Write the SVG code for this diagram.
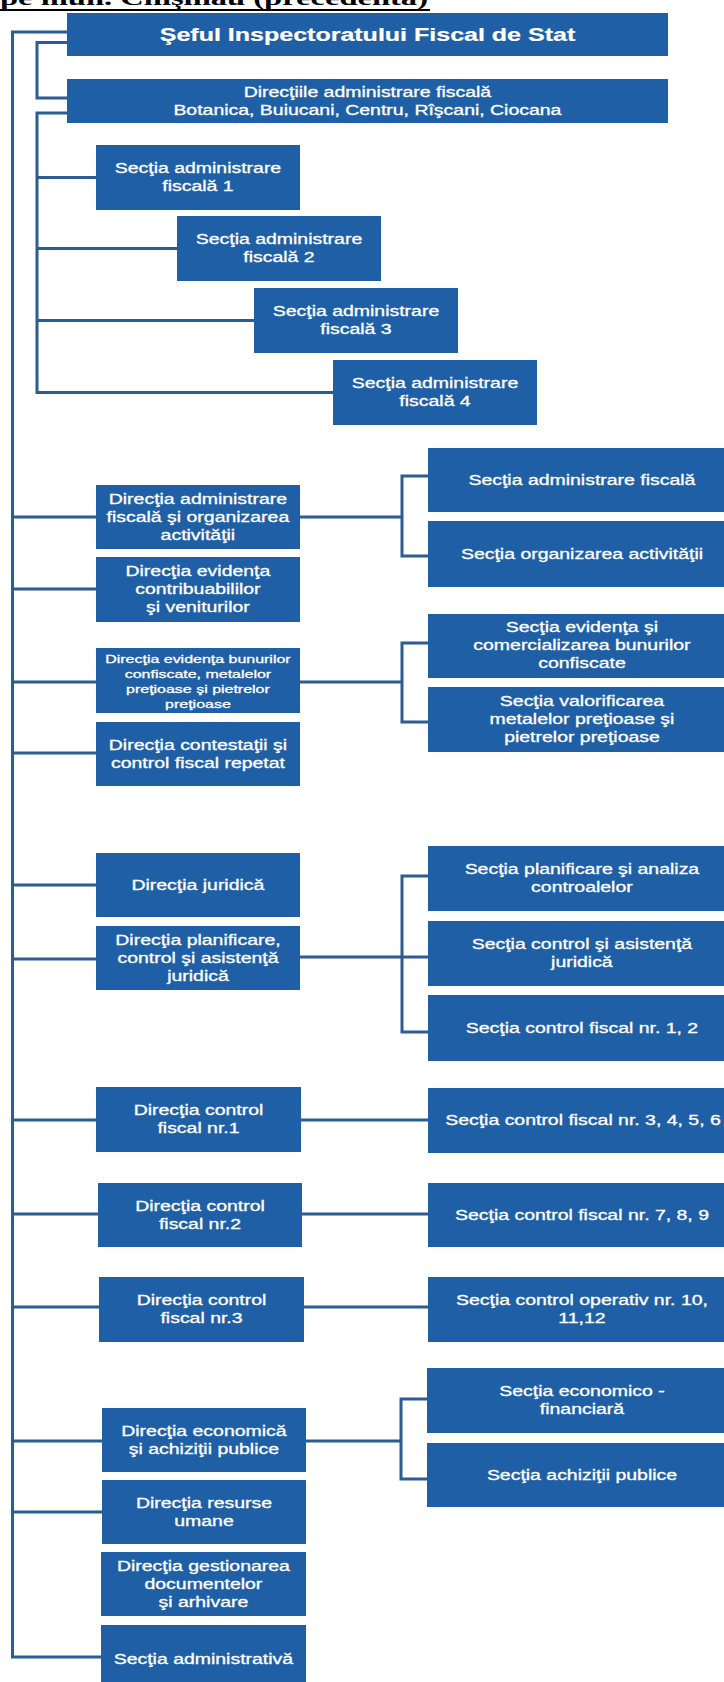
<svg xmlns="http://www.w3.org/2000/svg" width="724" height="1682" viewBox="0 0 724 1682">
<style>
.bg{fill:#fff}
.box{fill:#1f5fa5}
.con path{fill:none;stroke:#2b5c94;stroke-width:3}
.t{font-family:"Liberation Sans",Arial,sans-serif;font-size:14px;fill:#fff;stroke:#fff;stroke-width:0.3;text-anchor:middle;transform-box:fill-box;transform-origin:center;transform:scaleX(1.39)}
.tb{font-weight:bold;font-size:18px;stroke-width:0.2}
.ts{font-size:11.5px}
.head{font-family:"Liberation Serif","Times New Roman",serif;font-weight:bold;font-size:22px;fill:#000}
</style>
<rect class="bg" x="0" y="0" width="724" height="1682"/>
<g id="heading">
<text class="head" x="0" y="5" textLength="428" lengthAdjust="spacingAndGlyphs">pe mun. Chişinău (precedenta)</text>
<rect x="0" y="9" width="430" height="2" fill="#000"/>
</g>
<g class="con" id="connectors">
<path d="M67,32H12.5V1657H101"/>
<path d="M12.5,517H96M12.5,589H96M12.5,682H96M12.5,753H96M12.5,885H96M12.5,959H96M12.5,1120H96M12.5,1214H98M12.5,1307H99M12.5,1441H102M12.5,1512H102"/>
<path d="M67,42.5H37V98H67"/>
<path d="M67,113H37V392.5H333M37,177.5H96M37,248.5H177M37,320.5H254"/>
<path d="M300,517H402M428,476H402V556H428"/>
<path d="M300,682H402M428,643H402V722H428"/>
<path d="M300,957H428M428,876H402V1032H428"/>
<path d="M301,1120H428M302,1214H428M304,1307H428"/>
<path d="M306,1441H401M428,1399H401V1479H428"/>
</g>
<g id="n-sef"><rect class="box" x="67" y="13" width="601" height="43"/><text class="t tb" x="367.5" y="40.7">Şeful Inspectoratului Fiscal de Stat</text></g>
<g id="n-directiile"><rect class="box" x="67" y="79" width="601" height="44"/><text class="t" x="367.5" y="97"><tspan x="367.5">Direcţiile administrare fiscală</tspan><tspan x="367.5" dy="18">Botanica, Buiucani, Centru, Rîşcani, Ciocana</tspan></text></g>
<g id="n-saf1"><rect class="box" x="96" y="145" width="204" height="65"/><text class="t" x="198" y="173.5"><tspan x="198">Secţia administrare</tspan><tspan x="198" dy="18">fiscală 1</tspan></text></g>
<g id="n-saf2"><rect class="box" x="177" y="216" width="204" height="65"/><text class="t" x="279" y="244.5"><tspan x="279">Secţia administrare</tspan><tspan x="279" dy="18">fiscală 2</tspan></text></g>
<g id="n-saf3"><rect class="box" x="254" y="288" width="204" height="65"/><text class="t" x="356" y="316.5"><tspan x="356">Secţia administrare</tspan><tspan x="356" dy="18">fiscală 3</tspan></text></g>
<g id="n-saf4"><rect class="box" x="333" y="360" width="204" height="65"/><text class="t" x="435" y="388.5"><tspan x="435">Secţia administrare</tspan><tspan x="435" dy="18">fiscală 4</tspan></text></g>
<g id="n-dafoa"><rect class="box" x="96" y="485" width="204" height="64"/><text class="t" x="198" y="504"><tspan x="198">Direcţia administrare</tspan><tspan x="198" dy="18">fiscală şi organizarea</tspan><tspan x="198" dy="18">activităţii</tspan></text></g>
<g id="n-decv"><rect class="box" x="96" y="557" width="204" height="65"/><text class="t" x="198" y="576.5"><tspan x="198">Direcţia evidenţa</tspan><tspan x="198" dy="18">contribuabililor</tspan><tspan x="198" dy="18">şi veniturilor</tspan></text></g>
<g id="n-debc"><rect class="box" x="96" y="648" width="204" height="65"/><text class="t ts" x="198" y="662.7"><tspan x="198">Direcţia evidenţa bunurilor</tspan><tspan x="198" dy="15.2">confiscate, metalelor</tspan><tspan x="198" dy="15.2">preţioase şi pietrelor</tspan><tspan x="198" dy="15.2">preţioase</tspan></text></g>
<g id="n-dccfr"><rect class="box" x="96" y="722" width="204" height="64"/><text class="t" x="198" y="750"><tspan x="198">Direcţia contestaţii şi</tspan><tspan x="198" dy="18">control fiscal repetat</tspan></text></g>
<g id="n-dj"><rect class="box" x="96" y="853" width="204" height="64"/><text class="t" x="198" y="890">Direcţia juridică</text></g>
<g id="n-dpca"><rect class="box" x="96" y="926" width="204" height="64"/><text class="t" x="198" y="945"><tspan x="198">Direcţia planificare,</tspan><tspan x="198" dy="18">control şi asistenţă</tspan><tspan x="198" dy="18">juridică</tspan></text></g>
<g id="n-dcf1"><rect class="box" x="96" y="1087" width="205" height="65"/><text class="t" x="198.5" y="1115.5"><tspan x="198.5">Direcţia control</tspan><tspan x="198.5" dy="18">fiscal nr.1</tspan></text></g>
<g id="n-dcf2"><rect class="box" x="98" y="1183" width="204" height="64"/><text class="t" x="200" y="1211"><tspan x="200">Direcţia control</tspan><tspan x="200" dy="18">fiscal nr.2</tspan></text></g>
<g id="n-dcf3"><rect class="box" x="99" y="1277" width="205" height="65"/><text class="t" x="201.5" y="1305.5"><tspan x="201.5">Direcţia control</tspan><tspan x="201.5" dy="18">fiscal nr.3</tspan></text></g>
<g id="n-deap"><rect class="box" x="102" y="1408" width="204" height="64"/><text class="t" x="204" y="1436"><tspan x="204">Direcţia economică</tspan><tspan x="204" dy="18">şi achiziţii publice</tspan></text></g>
<g id="n-dru"><rect class="box" x="102" y="1480" width="204" height="64"/><text class="t" x="204" y="1508"><tspan x="204">Direcţia resurse</tspan><tspan x="204" dy="18">umane</tspan></text></g>
<g id="n-dgda"><rect class="box" x="101" y="1552" width="205" height="64"/><text class="t" x="203.5" y="1571"><tspan x="203.5">Direcţia gestionarea</tspan><tspan x="203.5" dy="18">documentelor</tspan><tspan x="203.5" dy="18">şi arhivare</tspan></text></g>
<g id="n-sa"><rect class="box" x="101" y="1625" width="205" height="66"/><text class="t" x="203.5" y="1664">Secţia administrativă</text></g>
<g id="n-saf"><rect class="box" x="428" y="448" width="308" height="64"/><text class="t" x="582" y="485">Secţia administrare fiscală</text></g>
<g id="n-soa"><rect class="box" x="428" y="521" width="308" height="66"/><text class="t" x="582" y="559">Secţia organizarea activităţii</text></g>
<g id="n-secb"><rect class="box" x="428" y="614" width="308" height="64"/><text class="t" x="582" y="632"><tspan x="582">Secţia evidenţa şi</tspan><tspan x="582" dy="18">comercializarea bunurilor</tspan><tspan x="582" dy="18">confiscate</tspan></text></g>
<g id="n-svm"><rect class="box" x="428" y="687" width="308" height="65"/><text class="t" x="582" y="706.5"><tspan x="582">Secţia valorificarea</tspan><tspan x="582" dy="18">metalelor preţioase şi</tspan><tspan x="582" dy="18">pietrelor preţioase</tspan></text></g>
<g id="n-spac"><rect class="box" x="428" y="846" width="308" height="65"/><text class="t" x="582" y="874.5"><tspan x="582">Secţia planificare şi analiza</tspan><tspan x="582" dy="18">controalelor</tspan></text></g>
<g id="n-scaj"><rect class="box" x="428" y="921" width="308" height="65"/><text class="t" x="582" y="949.5"><tspan x="582">Secţia control şi asistenţă</tspan><tspan x="582" dy="18">juridică</tspan></text></g>
<g id="n-scf12"><rect class="box" x="428" y="995" width="308" height="66"/><text class="t" x="582" y="1033">Secţia control fiscal nr. 1, 2</text></g>
<g id="n-scf3456"><rect class="box" x="428" y="1088" width="308" height="65"/><text class="t" x="583" y="1125.5">Secţia control fiscal nr. 3, 4, 5, 6</text></g>
<g id="n-scf789"><rect class="box" x="428" y="1183" width="308" height="64"/><text class="t" x="582" y="1220">Secţia control fiscal nr. 7, 8, 9</text></g>
<g id="n-sco"><rect class="box" x="428" y="1277" width="308" height="65"/><text class="t" x="582" y="1305.5"><tspan x="582">Secţia control operativ nr. 10,</tspan><tspan x="582" dy="18">11,12</tspan></text></g>
<g id="n-sef-fin"><rect class="box" x="427" y="1368" width="309" height="65"/><text class="t" x="582" y="1396.5"><tspan x="582">Secţia economico -</tspan><tspan x="582" dy="18">financiară</tspan></text></g>
<g id="n-sap"><rect class="box" x="427" y="1443" width="309" height="64"/><text class="t" x="582" y="1480">Secţia achiziţii publice</text></g>
</svg>
